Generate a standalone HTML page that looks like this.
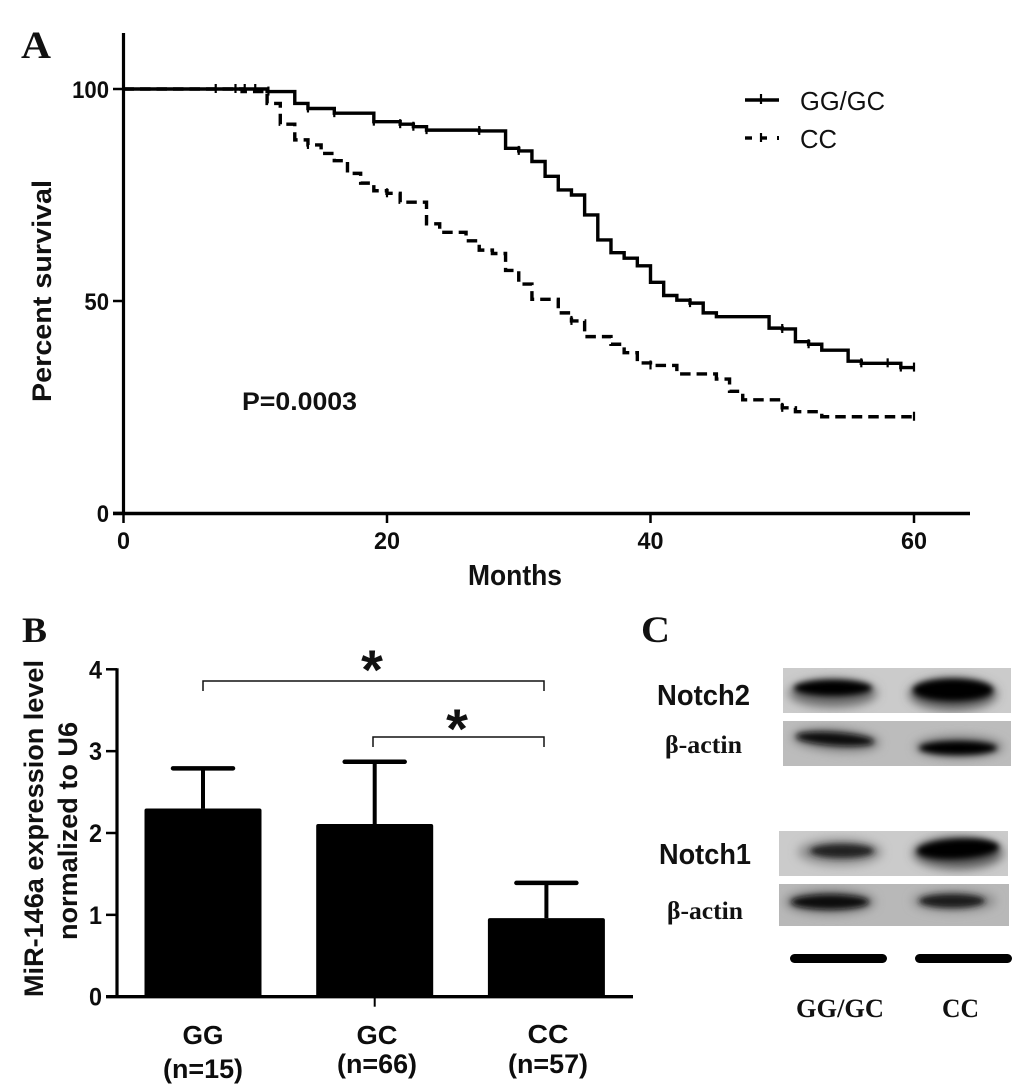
<!DOCTYPE html>
<html lang="en">
<head>
<meta charset="utf-8">
<title>Survival, miR-146a expression and Notch western blots</title>
<style>
html,body{margin:0;padding:0;background:#fff;}
svg{display:block;}
text{font-family:"Liberation Sans",sans-serif;fill:#111;}
.serif{font-family:"Liberation Serif",serif;font-weight:bold;}
.b{font-weight:bold;}
</style>
</head>
<body>
<svg id="fig" xmlns="http://www.w3.org/2000/svg" width="1033" height="1088" viewBox="0 0 1033 1088">
<defs>
<filter id="blur1" x="-40%" y="-150%" width="180%" height="400%"><feGaussianBlur stdDeviation="5"/></filter>
<filter id="blur2" x="-40%" y="-150%" width="180%" height="400%"><feGaussianBlur stdDeviation="3"/></filter>
<filter id="soft" x="-2%" y="-2%" width="104%" height="104%"><feGaussianBlur stdDeviation="0.35"/></filter>
<clipPath id="c1"><rect x="783" y="668" width="228" height="45"/></clipPath>
<clipPath id="c2"><rect x="783" y="721" width="228" height="45"/></clipPath>
<clipPath id="c3"><rect x="779" y="831" width="229" height="45"/></clipPath>
<clipPath id="c4"><rect x="779" y="884" width="230" height="42"/></clipPath>
</defs>
<rect width="1033" height="1088" fill="#fff"/>

<text class="serif" x="21" y="58" font-size="39" textLength="30" lengthAdjust="spacingAndGlyphs">A</text>
<text class="serif" x="22" y="642" font-size="36" textLength="25" lengthAdjust="spacingAndGlyphs">B</text>
<text class="serif" x="641" y="642" font-size="37" textLength="29" lengthAdjust="spacingAndGlyphs">C</text>

<g id="chartA" filter="url(#soft)"></g>
<text class="b" transform="translate(51,402) rotate(-90)" font-size="27" textLength="222" lengthAdjust="spacingAndGlyphs">Percent survival</text>
<text class="b" x="468" y="585" font-size="29" textLength="94" lengthAdjust="spacingAndGlyphs">Months</text>
<text class="b" x="242" y="410" font-size="25" textLength="115" lengthAdjust="spacingAndGlyphs">P=0.0003</text>

<g>
  <line x1="745" x2="779" y1="100" y2="100" stroke="#000" stroke-width="3.4"/>
  <line x1="761" x2="761" y1="94" y2="104" stroke="#000" stroke-width="2.2"/>
  <text x="800" y="110" font-size="26" textLength="85" lengthAdjust="spacingAndGlyphs">GG/GC</text>
  <line x1="745" x2="752" y1="138" y2="138" stroke="#000" stroke-width="3.4"/>
  <line x1="761" x2="767" y1="138" y2="138" stroke="#000" stroke-width="3.4"/>
  <line x1="761" x2="761" y1="133" y2="142" stroke="#000" stroke-width="2.2"/>
  <line x1="778" x2="778" y1="136" y2="140" stroke="#000" stroke-width="2"/>
  <text x="800" y="148" font-size="26" textLength="37" lengthAdjust="spacingAndGlyphs">CC</text>
</g>

<g id="chartB" filter="url(#soft)"></g>
<text class="b" transform="translate(43,997) rotate(-90)" font-size="27" textLength="337" lengthAdjust="spacingAndGlyphs">MiR-146a expression level</text>
<text class="b" transform="translate(77,940) rotate(-90)" font-size="27" textLength="218" lengthAdjust="spacingAndGlyphs">normalized to U6</text>

<g>
  <path d="M203 691V681H544V691" fill="none" stroke="#111" stroke-width="1.5"/>
  <path d="M373 747V737H544V747" fill="none" stroke="#111" stroke-width="1.5"/>
  <text x="372" y="689" font-size="56" text-anchor="middle" class="b">*</text>
  <text x="457" y="748" font-size="56" text-anchor="middle" class="b">*</text>
</g>

<g>
  <text class="b" x="657" y="705" font-size="29" textLength="93" lengthAdjust="spacingAndGlyphs">Notch2</text>
  <g clip-path="url(#c1)">
    <rect x="783" y="668" width="228" height="45" fill="#cbcbcb"/>
    <ellipse cx="833" cy="693" rx="44" ry="14" fill="#666" filter="url(#blur1)"/>
    <ellipse cx="833" cy="688" rx="39" ry="8" fill="#000" filter="url(#blur2)"/>
    <ellipse cx="953" cy="694" rx="44" ry="16" fill="#555" filter="url(#blur1)"/>
    <ellipse cx="953" cy="690" rx="40" ry="11" fill="#000" filter="url(#blur2)"/>
  </g>
  <text class="serif" x="665" y="753" font-size="25" textLength="77" lengthAdjust="spacingAndGlyphs">β-actin</text>
  <g clip-path="url(#c2)">
    <rect x="783" y="721" width="228" height="45" fill="#bcbcbc"/>
    <ellipse cx="836" cy="740" rx="44" ry="11" fill="#777" transform="rotate(4 836 740)" filter="url(#blur1)"/>
    <ellipse cx="835" cy="739" rx="39" ry="6.5" fill="#111" transform="rotate(4 835 739)" filter="url(#blur2)"/>
    <ellipse cx="959" cy="747" rx="44" ry="11" fill="#777" filter="url(#blur1)"/>
    <ellipse cx="958" cy="748" rx="39" ry="7" fill="#000" filter="url(#blur2)"/>
  </g>
  <text class="b" x="659" y="864" font-size="29" textLength="92" lengthAdjust="spacingAndGlyphs">Notch1</text>
  <g clip-path="url(#c3)">
    <rect x="779" y="831" width="229" height="45" fill="#cbcbcb"/>
    <ellipse cx="840" cy="852" rx="42" ry="13" fill="#888" filter="url(#blur1)"/>
    <ellipse cx="842" cy="851" rx="32" ry="7" fill="#222" filter="url(#blur2)"/>
    <ellipse cx="958" cy="853" rx="45" ry="16" fill="#555" filter="url(#blur1)"/>
    <ellipse cx="958" cy="849" rx="41" ry="10" fill="#000" transform="rotate(-3 958 849)" filter="url(#blur2)"/>
  </g>
  <text class="serif" x="667" y="919" font-size="25" textLength="76" lengthAdjust="spacingAndGlyphs">β-actin</text>
  <g clip-path="url(#c4)">
    <rect x="779" y="884" width="230" height="42" fill="#b8b8b8"/>
    <ellipse cx="830" cy="902" rx="45" ry="12" fill="#777" filter="url(#blur1)"/>
    <ellipse cx="830" cy="902" rx="39" ry="7.5" fill="#0a0a0a" filter="url(#blur2)"/>
    <ellipse cx="954" cy="901" rx="42" ry="11" fill="#888" filter="url(#blur1)"/>
    <ellipse cx="952" cy="901" rx="33" ry="7" fill="#1a1a1a" filter="url(#blur2)"/>
  </g>
  <rect x="790" y="954" width="97" height="9" rx="4.5" fill="#000"/>
  <rect x="915" y="954" width="97" height="9" rx="4.5" fill="#000"/>
  <text class="serif" x="796" y="1017" font-size="26" textLength="88" lengthAdjust="spacingAndGlyphs">GG/GC</text>
  <text class="serif" x="942" y="1017" font-size="26" textLength="37" lengthAdjust="spacingAndGlyphs">CC</text>
</g>
</svg>

<script>
const monthTicks = [0, 20, 40, 60];
const survivalTicks = [0, 50, 100];
const solidMonths = [0, 10.9, 13, 14, 16, 19, 21, 22, 23, 27, 29, 30, 31, 32, 33, 34, 35, 36, 37, 38, 39, 40, 41, 42, 43, 44, 45, 49, 50, 51, 52, 53, 55, 56, 58, 59, 60];
const solidSurvival = [100, 99.4, 96.6, 95.4, 94.3, 92.3, 91.7, 91.1, 90.3, 90.1, 86, 85.4, 82.9, 79.4, 76.2, 75, 70.3, 64.4, 61.4, 60.1, 58.3, 54.4, 51.3, 50.2, 49.5, 47.2, 46.3, 43.6, 43.4, 40.4, 39.8, 38.4, 35.8, 35.3, 35.3, 34.3, 34.3];
const solidCensored = [7, 8.5, 9.2, 10, 11, 14, 16, 19, 21, 22, 23, 27, 30, 43, 50, 52, 56, 58, 59, 60];
const dashedMonths = [0, 9, 10.9, 11.9, 13, 14, 15, 16, 17, 18, 19, 20, 21, 23, 24, 26, 27, 28, 29, 30, 31, 33, 34, 35, 37, 38, 39, 40, 42, 45, 46, 47, 50, 51, 53, 60];
const dashedSurvival = [100, 99.4, 96.6, 91.7, 88, 86.8, 84.8, 83.1, 80.1, 77.8, 76, 75.4, 73.3, 68.2, 66.2, 64.2, 62, 61.2, 57.2, 54, 50.4, 47.2, 45.3, 41.6, 39.8, 37.8, 35.4, 34.8, 32.8, 31.6, 28.7, 26.7, 24.8, 23.9, 22.7, 22.7];
const dashedCensored = [14, 20, 34, 40, 50, 60];

const expressionTicks = [0, 1, 2, 3, 4];
const genotypes = ["GG", "GC", "CC"];
const sampleSizes = ["(n=15)", "(n=66)", "(n=57)"];
const meanExpression = [2.3, 2.11, 0.96];
const errorUpper = [2.79, 2.87, 1.39];

const NS = "http://www.w3.org/2000/svg";
function mk(parent, tag, attrs, txt) {
  const e = document.createElementNS(NS, tag);
  for (const k in attrs) e.setAttribute(k, attrs[k]);
  if (txt !== undefined) e.textContent = txt;
  parent.appendChild(e);
  return e;
}

/* Panel A */
const A = document.getElementById("chartA");
const xA = m => 123.5 + m * (914 - 123.5) / 60;
const yA = s => 513 - s * 4.24;

function stepPath(ms, vs) {
  let d = "M" + xA(ms[0]) + " " + yA(vs[0]);
  for (let i = 1; i < ms.length; i++) d += "H" + xA(ms[i]) + "V" + yA(vs[i]);
  return d;
}
function valueAt(ms, vs, m) {
  let v = vs[0];
  for (let i = 0; i < ms.length; i++) if (ms[i] <= m) v = vs[i];
  return v;
}

const yAxisA = mk(A, "line", {x1: 123.5, x2: 123.5, y1: 33, y2: 514, stroke: "#000", "stroke-width": 3.2});


const xAxisA = mk(A, "line", {x1: 113, x2: 970, y1: 513.5, y2: 513.5, stroke: "#000", "stroke-width": 3.4});



survivalTicks.forEach(s => {
  const t = mk(A, "line", {x1: 113, x2: 123, y1: yA(s), y2: yA(s), stroke: "#000", "stroke-width": 2.5});
  
  
  const l = mk(A, "text", {x: 109, y: yA(s) + 9, "text-anchor": "end", "font-size": 24, "font-weight": "bold", textLength: String(s).length * 12.3, lengthAdjust: "spacingAndGlyphs"}, s);
  
  
});
monthTicks.forEach(m => {
  const t = mk(A, "line", {x1: xA(m), x2: xA(m), y1: 513, y2: 523, stroke: "#000", "stroke-width": 2.5});
  
  
  const l = mk(A, "text", {x: xA(m), y: 549, "text-anchor": "middle", "font-size": 24, "font-weight": "bold", textLength: String(m).length * 13, lengthAdjust: "spacingAndGlyphs"}, m);
  
  
});

const dashed = mk(A, "path", {d: stepPath(dashedMonths, dashedSurvival), fill: "none", stroke: "#000", "stroke-width": 3.4, "stroke-dasharray": "10.5 6"});


dashedCensored.forEach(m => {
  const v = valueAt(dashedMonths, dashedSurvival, m);
  const c = mk(A, "line", {x1: xA(m), x2: xA(m), y1: yA(v) - 5, y2: yA(v) + 4, stroke: "#000", "stroke-width": 2.2});
  
  
});
const solid = mk(A, "path", {d: stepPath(solidMonths, solidSurvival), fill: "none", stroke: "#000", "stroke-width": 3.4});


solidCensored.forEach(m => {
  const v = valueAt(solidMonths, solidSurvival, m);
  const c = mk(A, "line", {x1: xA(m), x2: xA(m), y1: yA(v) - 5, y2: yA(v) + 4, stroke: "#000", "stroke-width": 2.2});
  
  
});

/* Panel B */
const B = document.getElementById("chartB");
const yB = v => 996.7 - v * 81.85;
const xB = i => 203 + i * 171.7;
const barWidth = 117;
const capWidth = 60;
const catLabelX = [203, 377, 548];
const catLine1Y = [1044, 1044, 1043];
const catLine2Y = [1078, 1073, 1073];

meanExpression.forEach((v, i) => {
  const err = mk(B, "line", {x1: xB(i), x2: xB(i), y1: yB(errorUpper[i]), y2: yB(v), stroke: "#000", "stroke-width": 4});
  
  
  const cap = mk(B, "line", {x1: xB(i) - capWidth / 2, x2: xB(i) + capWidth / 2, y1: yB(errorUpper[i]), y2: yB(errorUpper[i]), stroke: "#000", "stroke-width": 4.5, "stroke-linecap": "round"});
  
  
  const bar = mk(B, "rect", {x: xB(i) - barWidth / 2, y: yB(v), width: barWidth, height: yB(0) - yB(v), rx: 2, fill: "#000"});
  
  
  const l1 = mk(B, "text", {x: catLabelX[i], y: catLine1Y[i], "text-anchor": "middle", "font-size": 26, "font-weight": "bold", textLength: 41, lengthAdjust: "spacingAndGlyphs"}, genotypes[i]);
  
  
  const l2 = mk(B, "text", {x: catLabelX[i], y: catLine2Y[i], "text-anchor": "middle", "font-size": 27, "font-weight": "bold", textLength: 80, lengthAdjust: "spacingAndGlyphs"}, sampleSizes[i]);
  
  
});

const yAxisB = mk(B, "line", {x1: 117, x2: 117, y1: yB(4) - 1, y2: yB(0) + 1, stroke: "#000", "stroke-width": 3.2});


const xAxisB = mk(B, "line", {x1: 106, x2: 633, y1: yB(0), y2: yB(0), stroke: "#000", "stroke-width": 3.4});


const midTick = mk(B, "line", {x1: xB(1), x2: xB(1), y1: yB(0), y2: yB(0) + 10, stroke: "#000", "stroke-width": 2});



expressionTicks.forEach(v => {
  const t = mk(B, "line", {x1: 106, x2: 117, y1: yB(v), y2: yB(v), stroke: "#000", "stroke-width": 2.5});
  
  
  const l = mk(B, "text", {x: 102, y: yB(v) + 9, "text-anchor": "end", "font-size": 25, "font-weight": "bold", textLength: 13, lengthAdjust: "spacingAndGlyphs"}, v);
  
  
});
</script>
</body>
</html>
